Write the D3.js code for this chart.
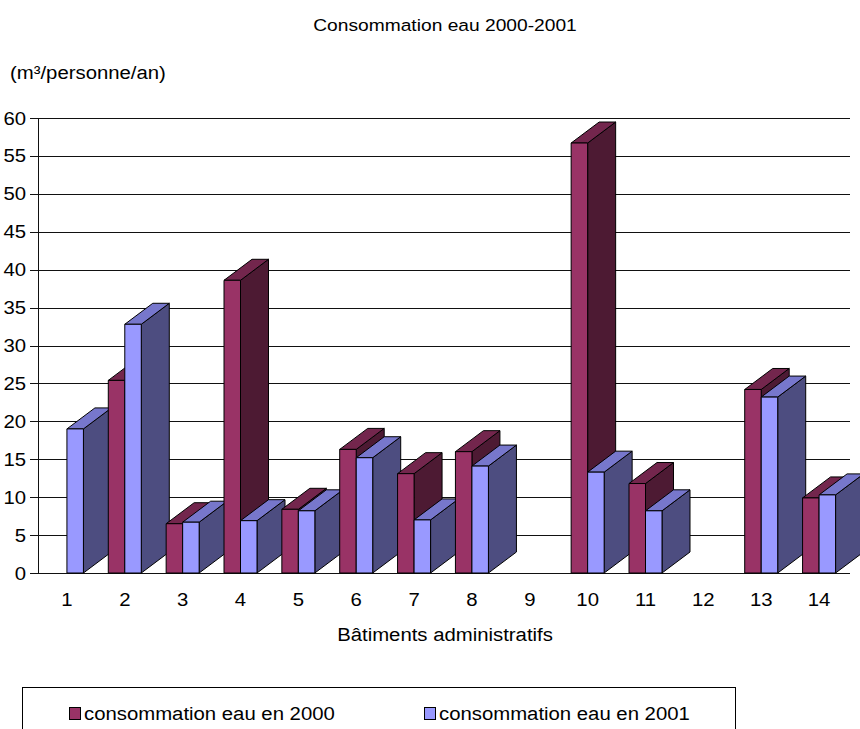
<!DOCTYPE html>
<html>
<head>
<meta charset="utf-8">
<script src="https://cdn.jsdelivr.net/npm/d3@7"></script>
<style>
  html, body { margin: 0; padding: 0; background: #fff; }
  svg { display: block; font-family: "Liberation Sans", Arial, Helvetica, sans-serif; }
</style>
</head>
<body>
<svg id="chart" width="860" height="729"></svg>
<script>
// Water consumption per building (m³/person/year)
const buildings = ["1","2","3","4","5","6","7","8","9","10","11","12","13","14"];
const conso2000 = [null, 25.4, 6.5, 38.6, 8.4, 16.3, 13.1, 16.0, null, 56.7, 11.8, null, 24.2, 9.9];
const conso2001 = [19.0, 32.8, 6.7, 6.9, 8.2, 15.2, 7.0, 14.1, null, 13.3, 8.2, null, 23.2, 10.3];
const seriesNames = ["consommation eau en 2000", "consommation eau en 2001"];
const yTicks = [0, 5, 10, 15, 20, 25, 30, 35, 40, 45, 50, 55, 60];

// face colours per series: front, top, side
const palette = [
  { front: "#993366", top: "#73264d", side: "#4d1a33" },
  { front: "#9999ff", top: "#7777cc", side: "#4d4d80" }
];

const svg = d3.select("#chart");
const plotLeft = 38, plotRight = 848, plotTop = 118, plotBottom = 573;
const depthX = 28, depthY = -21;
const stretch = 1.13; // slightly wide lettering

// places a horizontally widened text label anchored at (px, py)
function label(sel, px, py, size, anchor, str) {
  return sel.append("text")
    .attr("transform", `translate(${px},${py}) scale(${stretch},1)`)
    .attr("text-anchor", anchor).attr("font-size", size).attr("fill", "#000")
    .text(str);
}

const x = d3.scaleBand().domain(buildings).range([plotLeft, plotRight]);
const inner = d3.scaleBand().domain([0, 1]).range([x.step() / 2 - 16.5, x.step() / 2 + 16.5]);
const y = d3.scaleLinear().domain([0, 60]).range([plotBottom, plotTop]);

// gridlines and value axis
const grid = svg.append("g");
grid.selectAll("line").data(yTicks).join("line")
  .attr("x1", plotLeft - 8).attr("x2", plotRight + 2)
  .attr("y1", d => Math.round(y(d)) + 0.5).attr("y2", d => Math.round(y(d)) + 0.5)
  .attr("stroke", "#111").attr("stroke-width", 1);
grid.append("line")
  .attr("x1", plotLeft + 0.5).attr("x2", plotLeft + 0.5)
  .attr("y1", plotTop).attr("y2", plotBottom + 1)
  .attr("stroke", "#111");

const yLab = svg.append("g");
yTicks.forEach(t => label(yLab, plotLeft - 12, y(t) + 6.5, 18, "end", t));

// category labels
const xLab = svg.append("g");
buildings.forEach(b => label(xLab, x(b) + x.bandwidth() / 2, 606, 18, "middle", b));

// 3D bars, drawn left to right so nearer faces overlap correctly
const bars = [];
buildings.forEach((b, i) => {
  [conso2000[i], conso2001[i]].forEach((v, s) => {
    if (v == null) return;
    bars.push({ b, s, v });
  });
});

const barG = svg.append("g").attr("stroke", "#000").attr("stroke-width", 1).attr("stroke-linejoin", "round");
bars.forEach(d => {
  const x0 = x(d.b) + inner(d.s);
  const x1 = x0 + inner.bandwidth();
  const y0 = y(0), y1 = y(d.v);
  const c = palette[d.s];
  const g = barG.append("g");
  // side face
  g.append("path")
    .attr("d", `M${x1},${y0}L${x1 + depthX},${y0 + depthY}L${x1 + depthX},${y1 + depthY}L${x1},${y1}Z`)
    .attr("fill", c.side);
  // top face
  g.append("path")
    .attr("d", `M${x0},${y1}L${x0 + depthX},${y1 + depthY}L${x1 + depthX},${y1 + depthY}L${x1},${y1}Z`)
    .attr("fill", c.top);
  // front face
  g.append("rect")
    .attr("x", x0).attr("y", y1).attr("width", x1 - x0).attr("height", y0 - y1)
    .attr("fill", c.front);
});

// titles
label(svg, 445, 31, 17, "middle", "Consommation eau 2000-2001");
label(svg, 10, 79, 18, "start", "(m³/personne/an)");
label(svg, 445, 641, 18, "middle", "Bâtiments administratifs");

// legend
const legend = svg.append("g");
legend.append("rect").attr("x", 22.5).attr("y", 687.5).attr("width", 713).attr("height", 60)
  .attr("fill", "#fff").attr("stroke", "#000");
const legendX = [69, 424];
seriesNames.forEach((name, s) => {
  legend.append("rect").attr("x", legendX[s] + 0.5).attr("y", 707.5).attr("width", 11).attr("height", 12)
    .attr("fill", palette[s].front).attr("stroke", "#000");
  label(legend, legendX[s] + 15, 720, 18, "start", name);
});
</script>
</body>
</html>
